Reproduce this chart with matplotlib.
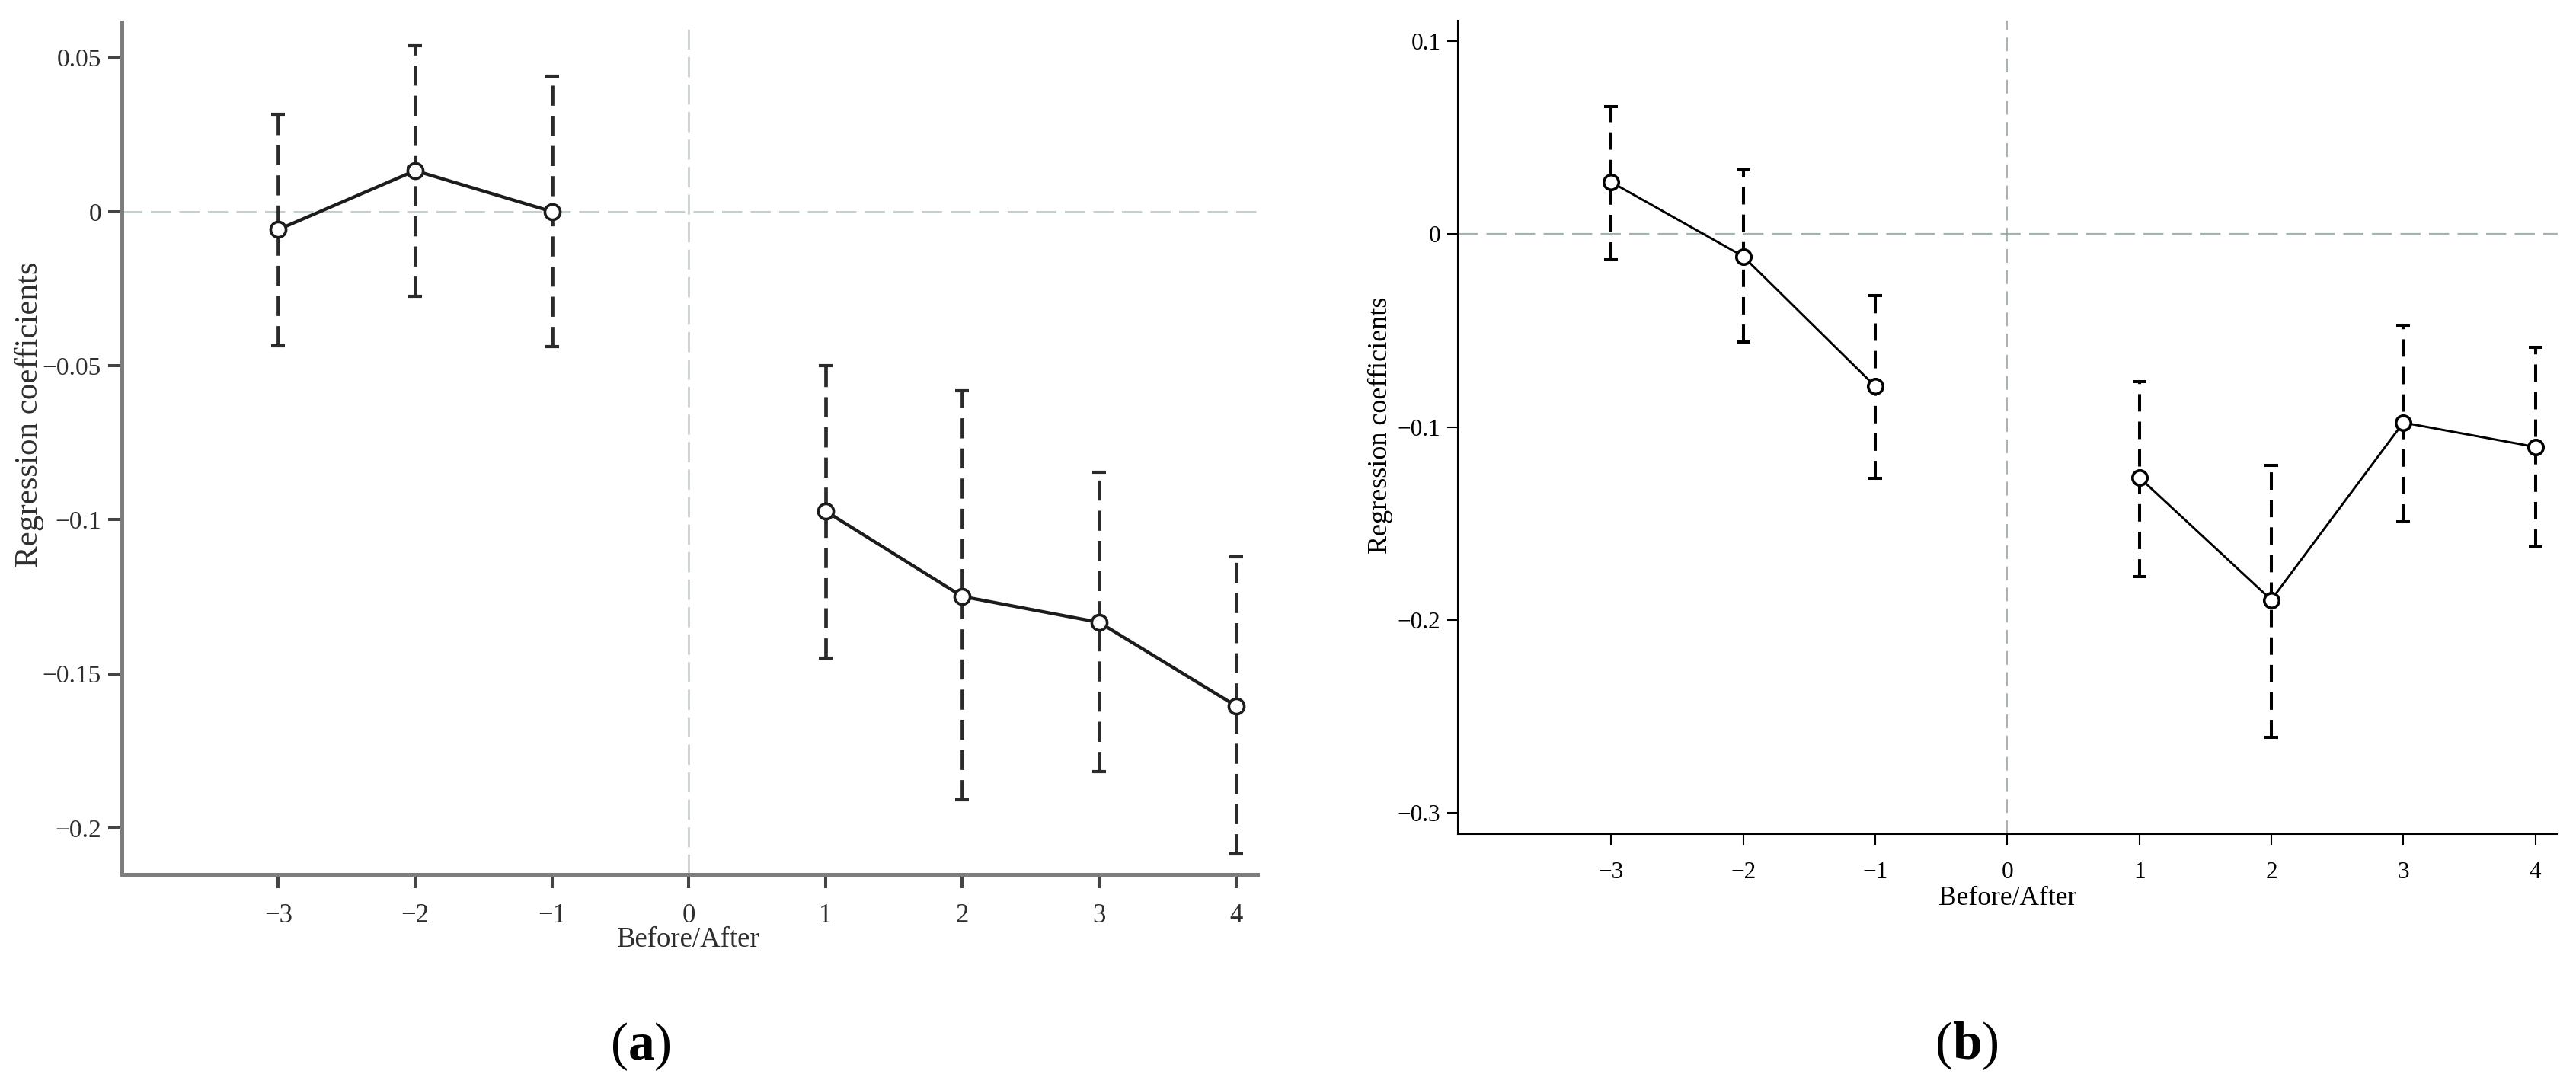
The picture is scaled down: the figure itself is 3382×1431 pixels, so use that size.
import matplotlib
matplotlib.use("Agg")
import matplotlib.pyplot as plt
import numpy as np

# ---------------- data ----------------
periods = [-3, -2, -1, 1, 2, 3, 4]
xtick_vals = [-3, -2, -1, 0, 1, 2, 3, 4]
xtick_labels = ["\u22123", "\u22122", "\u22121", "0", "1", "2", "3", "4"]

# panel (a)
coef_a = [-0.0058, 0.0133, 0.0000, -0.0972, -0.1249, -0.1333, -0.1604]
upper_a = [0.0316, 0.0538, 0.0440, -0.0500, -0.0582, -0.0846, -0.1120]
lower_a = [-0.0435, -0.0274, -0.0438, -0.1450, -0.1908, -0.1817, -0.2084]
ytick_vals_a = [0.05, 0.0, -0.05, -0.1, -0.15, -0.2]
ytick_labels_a = ["0.05", "0", "\u22120.05", "\u22120.1", "\u22120.15", "\u22120.2"]

# panel (b)
coef_b = [0.0270, -0.0115, -0.0789, -0.1261, -0.1896, -0.0977, -0.1103]
upper_b = [0.0663, 0.0332, -0.0317, -0.0764, -0.1200, -0.0472, -0.0587]
lower_b = [-0.0133, -0.0559, -0.1265, -0.1777, -0.2609, -0.1492, -0.1622]
ytick_vals_b = [0.1, 0.0, -0.1, -0.2, -0.3]
ytick_labels_b = ["0.1", "0", "\u22120.1", "\u22120.2", "\u22120.3"]

xlabel_text = "Before/After"
ylabel_text = "Regression coefficients"

# ---------------- style ----------------
plt.rcParams["font.family"] = ["Liberation Serif", "DejaVu Serif"]
plt.rcParams["mathtext.fontset"] = "custom"
plt.rcParams["mathtext.rm"] = "Liberation Serif"
plt.rcParams["mathtext.bf"] = "Liberation Serif:bold"
plt.rcParams["lines.scale_dashes"] = False

DPI = 100
fig = plt.figure(figsize=(3382 / DPI, 1431 / DPI), dpi=DPI)
fig.patch.set_facecolor("white")

ax_a = fig.add_axes([0.04731, 0.1981, 0.44086, 0.7816])
ax_b = fig.add_axes([0.56606, 0.23487, 0.42676, 0.74598])


def draw_panel(ax, coef, upper, lower, cfg):
    x = np.array(periods, dtype=float)
    c = np.array(coef)
    up = np.array(upper)
    lo = np.array(lower)
    # reference lines
    ax.axhline(0, color=cfg["ref_h_color"], lw=cfg["ref_h_lw"],
               linestyle=(0, cfg["ref_h_dash"]), zorder=1)
    ax.axvline(0, color=cfg["ref_v_color"], lw=cfg["ref_v_lw"],
               linestyle=(0, cfg["ref_v_dash"]), zorder=1)
    # confidence intervals
    eb = ax.errorbar(x, c, yerr=[c - lo, up - c], fmt="none",
                     ecolor=cfg["bar_color"], elinewidth=cfg["bar_lw"],
                     capsize=cfg["capsize"], capthick=cfg["capthick"], zorder=2)
    for lc in eb[2]:
        lc.set_linestyle((0, cfg["bar_dash"]))
    # connecting lines (pre and post separately)
    pre = x < 0
    post = x > 0
    for m in (pre, post):
        ax.plot(x[m], c[m], color=cfg["line_color"], lw=cfg["line_lw"],
                marker="o", ms=cfg["ms"], mfc="white", mec=cfg["line_color"],
                mew=cfg["mew"], zorder=3)


cfg_a = dict(ref_h_color="#c3d1cc", ref_h_lw=2.2, ref_h_dash=(19, 8),
             ref_v_color="#c8d0cd", ref_v_lw=2.0, ref_v_dash=(19, 7),
             bar_color="#2b2b2b", bar_lw=3.4, bar_dash=(19, 9.5),
             capsize=6.8, capthick=3.0, line_color="#1c1c1c", line_lw=3.1,
             ms=14.5, mew=2.6)
cfg_b = dict(ref_h_color="#9fb5ad", ref_h_lw=1.6, ref_h_dash=(19, 8),
             ref_v_color="#8f9e98", ref_v_lw=1.1, ref_v_dash=(13, 7),
             bar_color="black", bar_lw=2.9, bar_dash=(16.5, 9.5),
             capsize=6.5, capthick=2.9, line_color="black", line_lw=2.1,
             ms=14.0, mew=2.6)

draw_panel(ax_a, coef_a, upper_a, lower_a, cfg_a)
draw_panel(ax_b, coef_b, upper_b, lower_b, cfg_b)

# ---------------- axes (a) ----------------
ax_a.set_xlim(-4.144, 4.158)
ax_a.set_ylim(-0.215, 0.0615)
ax_a.set_xticks(xtick_vals, xtick_labels)
ax_a.set_yticks(ytick_vals_a, ytick_labels_a)
for s in ("top", "right"):
    ax_a.spines[s].set_visible(False)
for s in ("left", "bottom"):
    ax_a.spines[s].set_color("#7d7d7d")
    ax_a.spines[s].set_linewidth(3.6)
ax_a.tick_params(axis="y", direction="out", length=13, width=2.9,
                 color="#444444", labelsize=24, labelcolor="#2e2e2e", pad=6.5)
ax_a.tick_params(axis="x", direction="out", length=13, width=2.9,
                 color="#444444", labelsize=25, labelcolor="#2e2e2e", pad=15)
ax_a.set_xlabel(xlabel_text, fontsize=26.5, color="#2e2e2e")
ax_a.xaxis.set_label_coords(0.4987, -0.0773)
ax_a.xaxis.label.set_va("center")
ax_a.set_ylabel(ylabel_text, fontsize=31, color="#2e2e2e")
ax_a.yaxis.set_label_coords(-0.0818, 0.5396)
ax_a.yaxis.label.set_va("center")

# ---------------- axes (b) ----------------
ax_b.set_xlim(-4.159, 4.168)
ax_b.set_ylim(-0.311, 0.1106)
ax_b.set_xticks(xtick_vals, xtick_labels)
ax_b.set_yticks(ytick_vals_b, ytick_labels_b)
for s in ("top", "right"):
    ax_b.spines[s].set_visible(False)
for s in ("left", "bottom"):
    ax_b.spines[s].set_color("black")
    ax_b.spines[s].set_linewidth(1.5)
ax_b.tick_params(axis="y", direction="out", length=10, width=1.5,
                 color="black", labelsize=22.5, pad=6.5)
ax_b.tick_params(axis="x", direction="out", length=11, width=1.5,
                 color="black", labelsize=22.5, pad=15)
ax_b.set_xlabel(xlabel_text, fontsize=25.5)
ax_b.xaxis.set_label_coords(0.4996, -0.0788)
ax_b.xaxis.label.set_va("center")
ax_b.set_ylabel(ylabel_text, fontsize=26)
ax_b.yaxis.set_label_coords(-0.0709, 0.503)
ax_b.yaxis.label.set_va("center")

# ---------------- panel letters ----------------
fig.text(0.2487, 0.0398, r"($\mathbf{a}$)", fontsize=50, ha="center", va="center")
fig.text(0.7635, 0.0405, r"($\mathbf{b}$)", fontsize=50, ha="center", va="center")

fig.savefig("out.png", dpi=DPI, facecolor="white")
